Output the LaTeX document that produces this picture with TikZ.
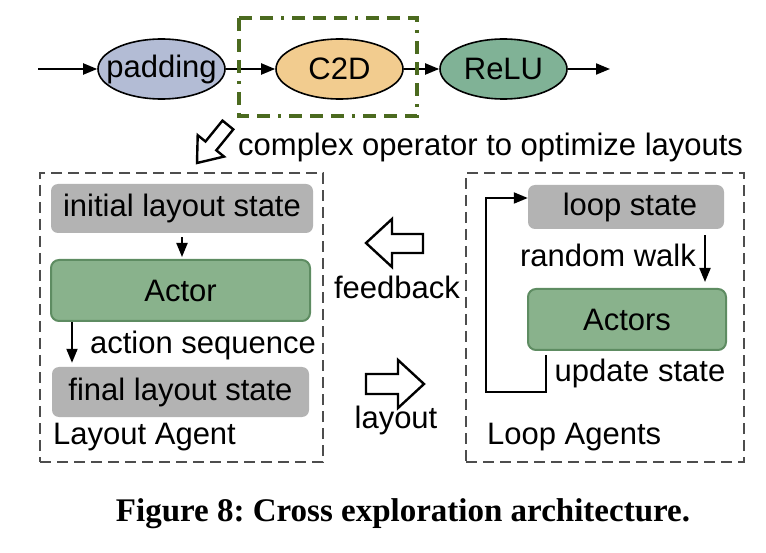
\documentclass[tikz,border=0pt]{standalone}
\usepackage{fontspec}
\setmainfont{Liberation Sans}
\newfontfamily\capfont{Liberation Serif}
\usetikzlibrary{shapes.geometric,arrows.meta}
\definecolor{padfill}{HTML}{B3BCD5}
\definecolor{convfill}{HTML}{F2CC8F}
\definecolor{relufill}{HTML}{80B296}
\definecolor{actfill}{HTML}{89B28C}
\definecolor{actdraw}{HTML}{5E8C62}
\definecolor{stfill}{HTML}{B3B3B3}
\definecolor{framegreen}{HTML}{4B6A1F}
\definecolor{dashgray}{HTML}{4D4D4D}
\newcommand{\optext}[1]{\makebox[0pt]{#1}}
\tikzset{
  op/.style={ellipse, draw=black, line width=1.6pt, minimum width=127pt, minimum height=60pt, inner sep=0pt, font=\fontsize{31}{36}\selectfont},
  stbox/.style={rectangle, fill=stfill, rounded corners=7pt, inner sep=0pt, font=\fontsize{31}{36}\selectfont},
  actbox/.style={rectangle, fill=actfill, draw=actdraw, line width=2pt, rounded corners=8pt, inner sep=0pt, font=\fontsize{31}{36}\selectfont},
  dbox/.style={rectangle, draw=dashgray, line width=2.8pt, dash pattern=on 11pt off 6pt, inner sep=0pt},
  arr/.style={line width=2pt, -{Triangle[length=14pt,width=11pt]}},
  lbl/.style={inner sep=0pt, font=\fontsize{31}{36}\selectfont},
  hollow/.style={draw=black, line width=2.4pt, fill=white, line join=miter},
}
\begin{document}
\begin{tikzpicture}[x=1pt,y=-1pt]
\useasboundingbox (0,0) rectangle (766,553);
% top chain
\coordinate (in) at (38,69);
\coordinate (out) at (610,69);
\node[op, fill=padfill] (pad) at (161.5,69) {\optext{padding}};
\node[op, fill=convfill] (c2d) at (339.5,69) {\optext{C2D}};
\node[op, fill=relufill] (relu) at (503.5,69) {\optext{ReLU}};
\draw[arr] (in) -- (pad);
\draw[arr] (pad) -- (c2d);
\draw[arr] (c2d) -- (relu);
\draw[arr] (relu) -- (out);
\draw[framegreen, line width=3.5pt, dash pattern=on 13pt off 8pt on 13pt off 8pt on 13pt off 8pt on 3pt off 8pt] (239,18) rectangle (417,116);
% down-left hollow arrow
\draw[hollow] (197,163) -- (224,156.6) -- (216.3,150.3) -- (233.3,129.4) -- (222.5,120.6) -- (205.5,141.5) -- (197.7,135.2) -- cycle;
\node[lbl, anchor=west] (cx) at (238,147) {complex operator to optimize layouts};
% frames
\node[dbox, minimum width=283pt, minimum height=289pt] (lbox) at (181.5,317.5) {};
\node[dbox, minimum width=278pt, minimum height=289pt] (rbox) at (605,317.5) {};
% layout agent
\node[stbox, minimum width=262pt, minimum height=49pt] (init) at (182,208.5) {initial layout state};
\node[actbox, minimum width=259pt, minimum height=61pt] (actor) at (180.5,290.5) {Actor};
\node[stbox, minimum width=257pt, minimum height=50pt] (final) at (180.5,392) {final layout state};
\draw[arr, shorten <=4pt, shorten >=2pt] (init.south) -- (init.south |- actor.north);
\draw[arr, shorten >=4pt] ([xshift=22pt]actor.south west) -- ([xshift=22pt]actor.south west |- final.north);
\node[lbl] (aseq) at (203,345) {action sequence};
\node[lbl, anchor=west] (la) at (53,437) {Layout Agent};
% loop agents
\node[stbox, minimum width=196pt, minimum height=44pt] (loop) at (626,207) {\hspace*{8pt}loop state};
\node[actbox, minimum width=198pt, minimum height=61pt] (actors) at (627,319.5) {Actors};
\draw[arr, shorten <=6pt, shorten >=6pt] ([xshift=79pt]loop.south) -- ([xshift=79pt]loop.south |- actors.north);
\node[lbl] (rw) at (608,255) {random walk};
\node[lbl] (us) at (640,373) {update state};
\coordinate (ustart) at (546,355);
\coordinate (ubot) at (486,392);
\draw[arr, line join=miter] (ustart) |- (ubot) |- ([yshift=9pt]loop.west);
\node[lbl, anchor=west] (lag) at (487,437) {Loop Agents};
% middle hollow arrows
\draw[hollow] (366,243) -- (392,219) -- (392,234) -- (423,234) -- (423,253) -- (392,253) -- (392,267) -- cycle;
\node[lbl] (fb) at (397,287) {feedback};
\draw[hollow] (424,384) -- (398,360) -- (398,374) -- (366,374) -- (366,394) -- (398,394) -- (398,408) -- cycle;
\node[lbl] (lay) at (396,420) {layout};
% caption
\node[inner sep=0pt, font=\capfont\bfseries\fontsize{33}{38}\selectfont] (cap) at (403,514) {\frenchspacing Figure 8: Cross exploration architecture.};
\end{tikzpicture}
\end{document}
